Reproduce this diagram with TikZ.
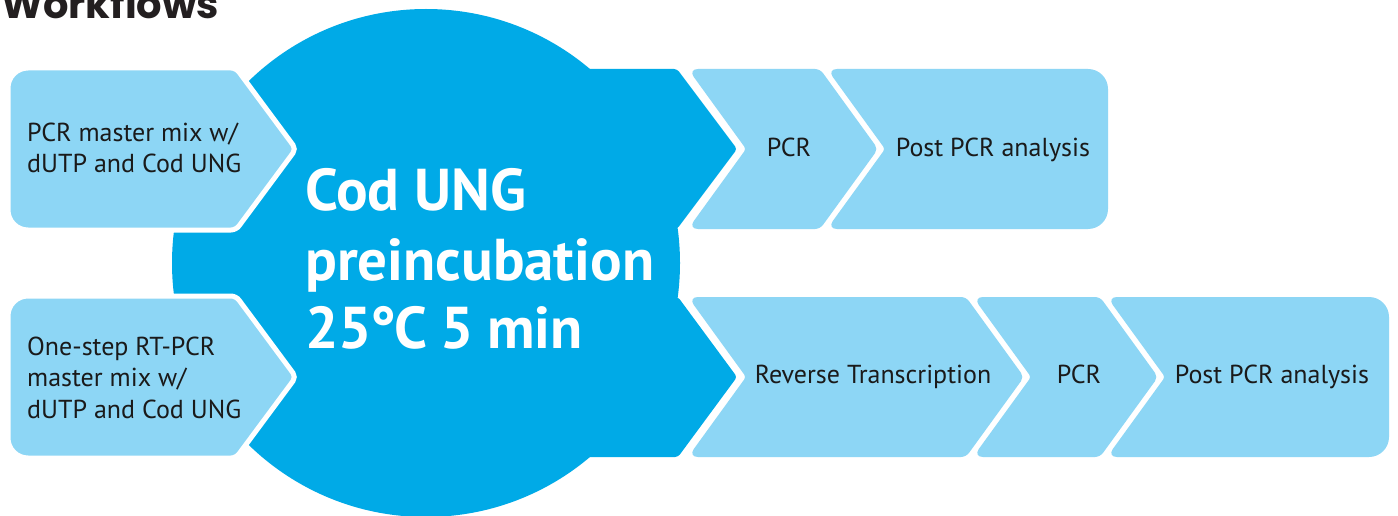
\documentclass[tikz,border=0pt]{standalone}
\usepackage{fontspec}
\setmainfont{PT Sans}
\newfontfamily\titlefont{Poppins}
\definecolor{lightb}{HTML}{8DD6F5}
\definecolor{mainb}{HTML}{00AAE7}
\definecolor{txt}{HTML}{1A1A1A}
\definecolor{titlec}{HTML}{231F20}
\begin{document}
\begin{tikzpicture}[x=1pt,y=-1pt,
  lbox/.style={fill=lightb},
  lboxw/.style={fill=lightb, draw=white, line width=5pt},
  bbox/.style={fill=mainb},
  small/.style={font=\fontsize{26}{31}\selectfont, text=txt, inner sep=0pt},
  big/.style={font=\fontsize{59}{68}\selectfont\bfseries, text=white, inner sep=0pt},
  ttl/.style={font=\titlefont\bfseries\fontsize{40}{44}\selectfont, text=titlec, inner sep=0pt}]
\clip (0,0) rectangle (1398,516);
\fill[white] (0,0) rectangle (1398,516);
% title
\node[ttl, anchor=base west] (title) at (1,19) {Workflows};
% big circle with chevron extensions
\fill[mainb] (426,263) circle [radius=254pt];
\fill[mainb] (560,69) [rounded corners=3] -- (677,69) -- (737,149) -- (677,229) -- (560,229) -- cycle;
\fill[mainb] (560,297) [rounded corners=3] -- (678,297) -- (737,377) -- (678,457) -- (560,457) -- cycle;
% left input boxes
\path[lboxw] (8,149) [rounded corners=20] -- (8,68) [rounded corners=5] -- (236,68) -- (296,149) -- (236,230) [rounded corners=20] -- (8,230) -- cycle;
\path[lboxw] (8,377) [rounded corners=20] -- (8,296) [rounded corners=5] -- (236,296) -- (296,377) -- (236,458) [rounded corners=20] -- (8,458) -- cycle;
% top workflow
\path[lbox] (746,149) [rounded corners=10] -- (688,69) [rounded corners=5] -- (820,69) -- (878,149) -- (820,229) [rounded corners=10] -- (688,229) [rounded corners=3] -- cycle;
\path[lbox] (885,149) [rounded corners=10] -- (827,69) [rounded corners=20] -- (1108,69) -- (1108,229) [rounded corners=10] -- (827,229) [rounded corners=3] -- cycle;
% bottom workflow
\path[lbox] (746,377) [rounded corners=10] -- (688,297) [rounded corners=5] -- (966,297) -- (1024,377) -- (966,457) [rounded corners=10] -- (688,457) [rounded corners=3] -- cycle;
\path[lbox] (1031,377) [rounded corners=10] -- (973,297) [rounded corners=5] -- (1100,297) -- (1158,377) -- (1100,457) [rounded corners=10] -- (973,457) [rounded corners=3] -- cycle;
\path[lbox] (1165,377) [rounded corners=10] -- (1107,297) [rounded corners=20] -- (1389,297) -- (1389,457) [rounded corners=10] -- (1107,457) [rounded corners=3] -- cycle;
% texts
\node[small, anchor=base west] (inA1) at (27,142) {PCR master mix w/};
\node[small, anchor=base west] (inA2) at (27,173) {dUTP and Cod UNG};
\node[small, anchor=base west] (inB1) at (27,355) {One-step RT-PCR};
\node[small, anchor=base west] (inB2) at (27,386.5) {master mix w/};
\node[small, anchor=base west] (inB3) at (27,418) {dUTP and Cod UNG};
\node[big, anchor=base west] (b1) at (305,211) {Cod UNG};
\node[big, anchor=base west] (b2) at (305,280) {preincubation};
\node[big, anchor=base west] (b3) at (305,348) {25\kern-2pt°\kern-1ptC\hspace{-2pt} 5\hspace{-2pt} min};
\node[small, anchor=base] (pcr1) at (789,157) {PCR};
\node[small, anchor=base] (post1) at (993,157) {Post PCR analysis};
\node[small, anchor=base] (rt) at (873,383) {Reverse Transcription};
\node[small, anchor=base] (pcr2) at (1079,383) {PCR};
\node[small, anchor=base] (post2) at (1272,383) {Post PCR analysis};
\end{tikzpicture}
\end{document}
